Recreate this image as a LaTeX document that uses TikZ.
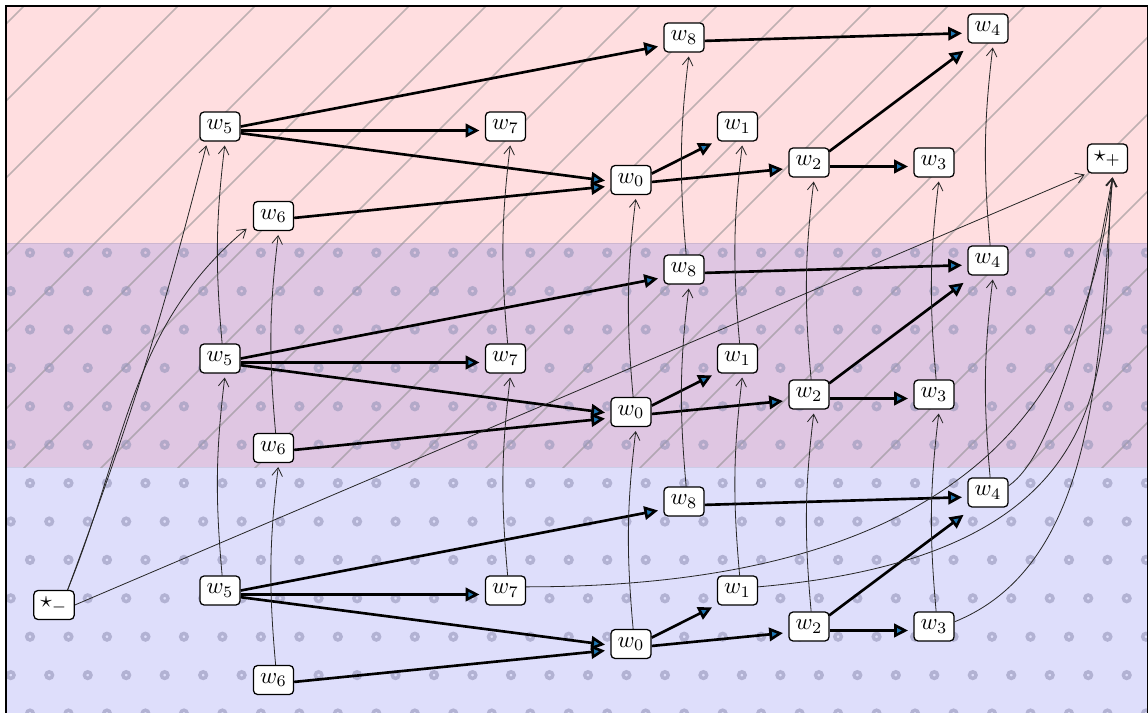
\documentclass[tikz,border=0pt]{standalone}
\usetikzlibrary{arrows.meta}
\definecolor{pinkbg}{RGB}{255,222,224}
\definecolor{bluebg}{RGB}{222,222,251}
\definecolor{purplebg}{RGB}{223,198,226}
\definecolor{hatchc}{RGB}{140,140,140}
\definecolor{dotc}{RGB}{150,150,185}
\definecolor{tipblue}{RGB}{31,119,180}
\pgfdeclarelayer{back}
\pgfdeclarelayer{mid}
\pgfsetlayers{back,mid,main}
\begin{document}
\begin{tikzpicture}[x=0.4348pt, y=0.4348pt,
  box/.style={draw, fill=white, rounded corners=1.8pt, line width=0.55pt,
    minimum height=12.6pt, inner xsep=2.9pt, inner ysep=0pt},
  edge/.style={line width=1.15pt, -{Triangle[length=6pt,width=5.8pt,fill=tipblue]},
    shorten >=2.3pt, transform canvas={yshift=-1.74pt}},
  link/.style={line width=0.35pt, black!85, -{Straight Barb[length=3.6pt,width=4.6pt]}, shorten >=1.7pt},
  hatch/.style={hatchc, opacity=.55, line width=0.7pt},
  ring/.style={dotc, opacity=.6, line width=1.5pt}
]
\useasboundingbox (0,0) rectangle (1148,712);
\begin{pgfonlayer}{back}
\begin{scope}
  \clip (6,0) rectangle (1148.3,706);
  \fill[pinkbg] (0,469) rectangle (1150,712);
  \fill[purplebg] (0,245) rectangle (1150,469);
  \fill[bluebg] (0,-10) rectangle (1150,245);
  \draw[black, opacity=.08, line width=0.4pt] (0,469) -- (1150,469) (0,245) -- (1150,245);
  \begin{scope}
    \clip (0,245) rectangle (1150,712);
    \foreach \k in {0,...,20}
      \draw[hatch] ({225-(682-77*\k)},225) -- ++(520,520);
  \end{scope}
  \begin{scope}
    \clip (0,-10) rectangle (1150,469);
    \foreach \j in {0,...,12}
      \foreach \i in {-1,...,30}
        \draw[ring] ({30+38.48*\i+19.24*mod(\j,2)},{459.3-38.4*\j}) circle[radius=3.3];
  \end{scope}
\end{scope}
\draw[line width=1pt] (6,-60) rectangle (1148.3,706);
\end{pgfonlayer}
% layers of nodes
\foreach \L/\d in {t/0,m/232,b/464}{
  \node[box] (\L w5) at (220,585.5-\d) {$w_5$};
  \node[box] (\L w7) at (505.5,585.5-\d) {$w_7$};
  \node[box] (\L w8) at (684,674.5-\d) {$w_8$};
  \node[box] (\L w4) at (988,683.5-\d) {$w_4$};
  \node[box] (\L w1) at (737.5,585.5-\d) {$w_1$};
  \node[box] (\L w0) at (631,532-\d) {$w_0$};
  \node[box] (\L w2) at (809,549.5-\d) {$w_2$};
  \node[box] (\L w3) at (934,549.5-\d) {$w_3$};
  \node[box] (\L w6) at (273.5,496-\d) {$w_6$};
  \begin{pgfonlayer}{mid}
  \draw[edge] (\L w5) -- (\L w8);
  \draw[edge] (\L w5) -- (\L w7);
  \draw[edge] (\L w5) -- (\L w0);
  \draw[edge] (\L w6) -- (\L w0);
  \draw[edge] (\L w0) -- (\L w1);
  \draw[edge] (\L w0) -- (\L w2);
  \draw[edge] (\L w8) -- (\L w4);
  \draw[edge] (\L w2) -- (\L w4);
  \draw[edge] (\L w2) -- (\L w3);
  \end{pgfonlayer}
}
\node[box] (sp) at (1107.5,553.5) {$\star_+$};
\node[box] (sm) at (54,107) {$\star_-$};
\begin{pgfonlayer}{mid}
% links between layers
\foreach \lo/\hi in {b/m,m/t}
  \foreach \n in {5,6,7,8,0,1,2,3,4}
    \draw[link] (\lo w\n.82) to[bend left=6] (\hi w\n.-71);
% links from the start node
\draw[link] (sm.48) to[bend right=3] (tw5.-130);
\draw[link, shorten >=3.5pt] (sm.48) to[out=68,in=220] (tw6.200);
\draw[link, shorten >=1pt] (sm.east) -- (sp.south west);
% links into the end node
\draw[link] (bw7.10) .. controls +(0:500) and +(-97:170) .. (sp.-70);
\draw[link] (bw1.10) .. controls +(5:400) and +(-96:160) .. (sp.-70);
\draw[link] (bw3.13) .. controls +(22:160) and +(-95:170) .. (sp.-70);
\draw[link] (bw4.18) .. controls +(35:55) and +(-100:150) .. (sp.-70);
\end{pgfonlayer}
\end{tikzpicture}
\end{document}
